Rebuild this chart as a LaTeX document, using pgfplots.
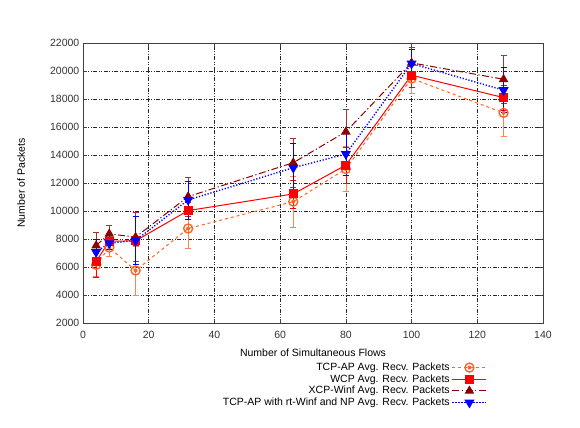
\documentclass[border=0pt]{standalone}
\usepackage{fontspec}
\setmainfont{Liberation Sans}
\usepackage{pgfplots}
\pgfplotsset{compat=1.18}
\usepackage{pgfplotstable}

\definecolor{tcpap}{RGB}{255,100,40}
\definecolor{wcp}{RGB}{255,0,0}
\definecolor{xcp}{RGB}{140,0,0}
\definecolor{rtw}{RGB}{0,0,255}

\pgfdeclareplotmark{cdot}{%
  \pgfpathcircle{\pgfpointorigin}{\pgfplotmarksize}\pgfusepathqstroke
  \pgfpathcircle{\pgfpointorigin}{0.45\pgfplotmarksize}\pgfusepathqfill}

% x  y  err
\pgfplotstableread{
x   y      e
4   6150   800
8   7390   600
16  5750   1750
32  8750   1430
64  10670  1800
80  13000  1620
100 19460  1070
128 17010  1640
}\tcpap
\pgfplotstableread{
x   y      e
4   6400   1100
8   7840   600
16  7870   300
32  10030  600
64  11220  1000
80  13280  1300
100 19700  900
128 18100  900
}\wcp
\pgfplotstableread{
x   y      e
4   7535   950
8   8370   630
16  8130   1750
32  11030  1400
64  13450  1730
80  15660  1600
100 20580  1100
128 19410  1700
}\xcp
\pgfplotstableread{
x   y      e
4   7060   900
8   7700   400
16  7890   1700
32  10790  1350
64  13090  1750
80  14070  1550
100 20530  1000
128 18630  1600
}\rtw

\begin{document}
\begin{tikzpicture}
\fontsize{10.5bp}{12bp}\selectfont
\path[use as bounding box] (-83bp,-105bp) rectangle (497bp,323bp);
\begin{axis}[
  at={(0,0)}, anchor=south west,
  scale only axis,
  width=460bp, height=280bp,
  xmin=0, xmax=140, ymin=2000, ymax=22000,
  xtick={0,20,...,140},
  ytick={2000,4000,...,22000},
  scaled y ticks=false,
  /pgf/number format/assume math mode=true,
  /pgf/number format/1000 sep={},
  tick label style={font=\fontsize{10.5bp}{12bp}\selectfont, black!80},
  label style={font=\fontsize{10.5bp}{12bp}\selectfont},
  xticklabel style={yshift=-4bp},
  tick align=inside,
  major tick length=4bp,
  axis line style={draw=black!75, line width=0.8bp},
  every tick/.style={black!75, line width=0.6bp},
  grid=major,
  major grid style={black!85, line width=0.5bp,
    dash pattern=on 4bp off 1.5bp on 1bp off 1.5bp on 1bp off 1.5bp},
  xlabel={Number of Simultaneous Flows},
  ylabel={Number of Packets},
  xlabel style={yshift=-4bp},
  ylabel style={yshift=18bp},
  legend style={draw=none, fill=none, at={(0.879,-0.135)}, anchor=north east,
    font=\fontsize{10.5bp}{11.5bp}\selectfont, row sep=-1.5bp,
    inner sep=0pt},
  legend cell align=right,
  legend plot pos=right,
  legend image code/.code={%
    \draw[mark repeat=2,mark phase=2,#1] plot coordinates {(0bp,0bp) (17bp,0bp) (34bp,0bp)};},
  error bars/y dir=both, error bars/y explicit,
  error bars/error mark options={rotate=90, mark size=3bp, line width=0.6bp},
]
\addplot[color=tcpap, line width=1bp, dash pattern=on 3bp off 3bp,
  mark=cdot, mark size=4.5bp, mark options={solid, fill=tcpap, line width=1.4bp},
  error bars/error bar style={line width=0.6bp, solid, tcpap!80}]
  table[x=x, y=y, y error=e] {\tcpap};
\addplot[color=wcp, line width=1bp,
  mark=square*, mark size=4bp, mark options={solid},
  error bars/error bar style={line width=0.6bp, solid, wcp}]
  table[x=x, y=y, y error=e] {\wcp};
\addplot[color=xcp, line width=1bp, dash pattern=on 7bp off 2.5bp on 1.2bp off 2.5bp,
  mark=triangle*, mark size=4.5bp, mark options={solid},
  error bars/error bar style={line width=0.6bp, solid, xcp!80}]
  table[x=x, y=y, y error=e] {\xcp};
\addplot[color=rtw, line width=1.4bp, dash pattern=on 1.2bp off 1.8bp,
  mark=triangle*, mark size=4.5bp, mark options={solid, rotate=180},
  error bars/error bar style={line width=0.6bp, solid, rtw}]
  table[x=x, y=y, y error=e] {\rtw};
\legend{TCP-AP Avg. Recv. Packets,
  WCP Avg. Recv. Packets,
  XCP-Winf Avg. Recv. Packets,
  TCP-AP with rt-Winf and NP Avg. Recv. Packets}
\end{axis}
\end{tikzpicture}
\end{document}
